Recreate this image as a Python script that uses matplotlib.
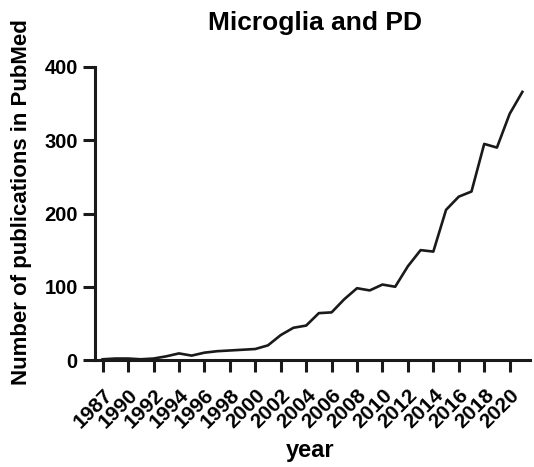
import numpy as np
import matplotlib.pyplot as plt
from matplotlib.transforms import ScaledTranslation

plt.rcParams['font.family'] = ['Liberation Sans', 'DejaVu Sans']
plt.rcParams['font.weight'] = 'bold'

# publications per year
years = np.arange(1988, 2022)
counts = [1, 2, 2, 1, 2, 5, 9, 6, 10, 12, 13, 14, 15, 20, 34, 44, 47, 64, 65, 83,
          98, 95, 103, 100, 128, 150, 148, 205, 223, 230, 295, 290, 336, 366]

tick_pos = np.arange(1988, 2021, 2)
tick_labels = ['1987'] + [str(y) for y in range(1990, 2021, 2)]
y_ticks = [0, 100, 200, 300, 400]

fig = plt.figure(figsize=(5.34, 4.67), dpi=100)
ax = fig.add_axes([95 / 534, 107 / 467, 435 / 534, 293 / 467])

ax.plot(years, counts, color='#1a1a1a', linewidth=1.9)

ax.set_xlim(1987.4, 2021.6)
ax.set_ylim(0, 400)
ax.set_xticks(tick_pos)
ax.set_xticklabels(tick_labels, rotation=45, ha='right', rotation_mode='anchor',
                   fontsize=15, fontweight='bold')
ax.set_yticks(y_ticks)
ax.set_yticklabels([str(v) for v in y_ticks], fontsize=14.5, fontweight='bold')

# nudge the slanted year labels a little to the left
off = ScaledTranslation(-3 / 100, 0, fig.dpi_scale_trans)
for lab in ax.get_xticklabels():
    lab.set_transform(lab.get_transform() + off)

for s in ['top', 'right']:
    ax.spines[s].set_visible(False)
for s in ['left', 'bottom']:
    ax.spines[s].set_linewidth(2.2)
    ax.spines[s].set_color('#1a1a1a')
ax.tick_params(axis='both', width=2.2, length=8.5, color='#1a1a1a')
ax.tick_params(axis='x', pad=10)
ax.tick_params(axis='y', pad=4)

fig.text(315 / 534, 1 - 23 / 467, 'Microglia and PD', fontsize=19, fontweight='bold',
         ha='center', va='center')
ax.set_ylabel('Number of publications in PubMed', fontsize=16, fontweight='bold')
ax.yaxis.set_label_coords(-0.145, 0.539)
ax.set_xlabel('year', fontsize=17, fontweight='bold')
ax.xaxis.set_label_coords(0.494, -0.27)

fig.savefig('out.png', dpi=100)
